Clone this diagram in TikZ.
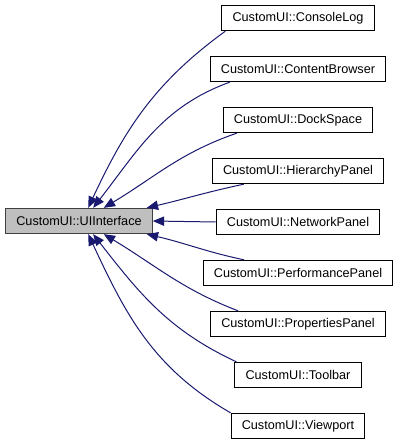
\documentclass[tikz,border=0pt]{standalone}
\usepackage{fontspec}
\setmainfont{Liberation Sans}
\usepackage{xcolor}
\usepackage{tikz}
\usetikzlibrary{arrows.meta,positioning}

\definecolor{edgeblue}{HTML}{191970}
\definecolor{curfill}{HTML}{BFBFBF}
\definecolor{curline}{HTML}{404040}

\begin{document}
\begin{tikzpicture}[
  node distance=18.5pt,
  sub/.style={draw=black,line width=0.75pt,fill=white,minimum height=19pt,inner xsep=8pt,inner ysep=0pt,
    font=\fontsize{9.5pt}{11pt}\selectfont},
  cur/.style={sub,draw=curline,fill=curfill},
  arr/.style={-{Triangle[length=8.5pt,width=7pt]},draw=edgeblue,line width=0.75pt}
]
  \useasboundingbox (0pt,0pt) rectangle (300pt,-332.25pt);

  \node[cur] (ui) at (59.25pt,-165.75pt) {CustomUI::UIInterface};

  \node[sub] (cl) at (223.5pt,-13.5pt) {CustomUI::ConsoleLog};
  \node[sub, below=of cl] (cb) {CustomUI::ContentBrowser};
  \node[sub, below=of cb] (ds) {CustomUI::DockSpace};
  \node[sub, below=of ds] (hp) {CustomUI::HierarchyPanel};
  \node[sub, below=of hp] (np) {CustomUI::NetworkPanel};
  \node[sub, below=of np] (pf) {CustomUI::PerformancePanel};
  \node[sub, below=of pf] (pr) {CustomUI::PropertiesPanel};
  \node[sub, below=of pr] (tb) {CustomUI::Toolbar};
  \node[sub, below=of tb] (vp) {CustomUI::Viewport};

  % derived classes point back to the base
  \draw[arr] ([xshift=3pt]cl.south west) to[out=216,in=65] (ui.55);
  \draw[arr] ([xshift=15pt]cb.south west) to[out=200,in=52] (ui.43);
  \draw[arr] ([xshift=10.5pt]ds.south west) to[out=199,in=31] (ui.28);
  \draw[arr] ([xshift=24pt]hp.south west) to[out=192,in=13] (ui.11.5);
  \draw[arr] (np.west) -- (ui.east);
  \draw[arr] ([xshift=31pt]pf.north west) to[out=168,in=-13] (ui.-11.5);
  \draw[arr] ([xshift=21pt]pr.north west) to[out=159,in=-31] (ui.-28);
  \draw[arr] ([xshift=1.5pt]tb.north west) to[out=155,in=-52] (ui.-43);
  \draw[arr] (vp.north west) to[out=150,in=-65] (ui.-55);
\end{tikzpicture}
\end{document}
